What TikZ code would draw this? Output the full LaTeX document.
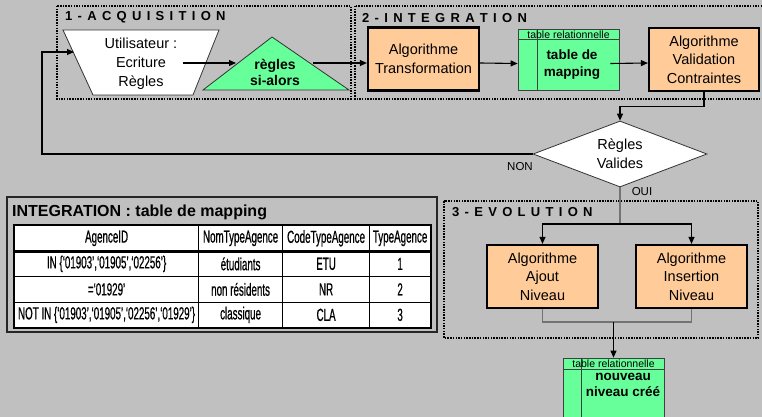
\documentclass[tikz,border=0pt]{standalone}
\usepackage{fontspec}
\setmainfont{Liberation Sans}
\newfontfamily\narrowfont[FakeStretch=0.56,FakeBold=0.6]{Liberation Sans}
\usetikzlibrary{arrows.meta,shapes.geometric,matrix,calc}
\definecolor{bg}{HTML}{C0C0C0}
\definecolor{orangebox}{HTML}{FFCC99}
\definecolor{greenbox}{HTML}{66FF99}
\def\myspaced#1{\ifx#1\relax\else#1\kern5.3pt\expandafter\myspaced\fi}
\begin{document}
\begin{tikzpicture}[x=1pt,y=-1pt,
  every node/.style={inner sep=0pt},
  frame/.style={draw=black, line width=1.6pt, dash pattern=on 1.5pt off 1.2pt},
  ftitle/.style={anchor=west, font=\fontsize{13}{13}\selectfont\bfseries},
  algo/.style={draw=black, line width=2.2pt, fill=orangebox, minimum width=111, minimum height=63, align=center, font=\fontsize{14.5}{18.5}\selectfont},
  reltab/.style={draw=black!75, line width=0.8pt, fill=greenbox},
  relhead/.style={font=\fontsize{10.5}{11}\selectfont},
  relbody/.style={align=center, font=\fontsize{13.5}{16.5}\selectfont\bfseries},
  shapeline/.style={draw=black!80, line width=0.8pt},
  boxtext/.style={align=center, font=\fontsize{14.5}{19}\selectfont},
  arr/.style={-{Triangle[length=7pt,width=6pt]}, line width=1.1pt},
  graycon/.style={line width=1.1pt, draw=black!55},
  lbl/.style={font=\fontsize{11.5}{12}\selectfont},
]
\fill[bg] (0,0) rectangle (762,417);
\useasboundingbox (0,0) rectangle (762,417);

% frames
\draw[frame] (57,6) rectangle (351,99);
\draw[frame] (355,6) rectangle (772,99);
\draw[frame] (444,201) rectangle (758,338);
\node[ftitle] (t1) at (65,17.5) {\myspaced 1-ACQUISITION\relax};
\node[ftitle] (t2) at (362,18) {\myspaced 2-INTEGRATION\relax};
\node[ftitle] (t3) at (452,212.5) {\myspaced 3-EVOLUTION\relax};

% acquisition
\path[shapeline, fill=white] (63,30) -- (219,30) -- (193,95) -- (93,95) -- cycle;
\node[boxtext] (user) at (141,64) {Utilisateur :\\Ecriture\\Règles};
\path[shapeline, fill=greenbox] (203,90) -- (272,37) -- (349,90) -- cycle;
\node[align=center, font=\fontsize{14}{16}\selectfont\bfseries] (regles) at (275,72) {règles\\si-alors};
\coordinate (userout) at (183,63);
\coordinate (triin) at (236,63);
\coordinate (triout) at (313,63);
\coordinate (nonturn) at (42,52);
\coordinate (nonend) at (74,52);

% integration
\node[algo] (trans) at (423.5,59) {Algorithme\\Transformation};
\node[reltab, minimum width=101, minimum height=61] (map) at (568.5,59.5) {};
\draw[reltab] ($(map.north west)+(0,11)$) -- ($(map.north east)+(0,11)$);
\draw[reltab] ($(map.north west)+(20,0)$) -- ($(map.south west)+(20,0)$);
\node[relhead] (maphead) at ($(map.north)+(0,6)$) {table relationnelle};
\node[relbody] (mapbody) at (572,64.5) {table de\\mapping};
\node[algo, minimum width=110] (valid) at (704,59.5) {Algorithme\\Validation\\Contraintes};

% decision
\node[diamond, aspect=2.64, minimum width=174, minimum height=66, shapeline, fill=white, boxtext] (dia) at (620,154) {Règles\\Valides};
\node[lbl] (non) at (520,167) {NON};
\node[lbl] (oui) at (642,192) {OUI};
\coordinate (split) at (620,224);

% evolution
\node[algo] (ajout) at (542.5,276.5) {Algorithme\\Ajout\\Niveau};
\node[algo] (insert) at (691.5,276.5) {Algorithme\\Insertion\\Niveau};
\coordinate (join) at (613.5,322);
\node[reltab, minimum width=101, minimum height=67] (newtab) at (613.5,391.5) {};
\draw[reltab] ($(newtab.north west)+(0,12)$) -- ($(newtab.north east)+(0,12)$);
\draw[reltab] ($(newtab.north west)+(19,0)$) -- ($(newtab.south west)+(19,0)$);
\node[relhead] (newhead) at ($(newtab.north)+(0,6.5)$) {table relationnelle};
\node[relbody, font=\fontsize{13.5}{16}\selectfont\bfseries] (newbody) at (623,385) {nouveau\\niveau créé};

% mapping table
\draw[line width=2pt, draw=black!85] (7,197) rectangle (437,332);
\node[anchor=west, font=\fontsize{16}{16}\selectfont\bfseries] (ttl) at (12,212) {INTEGRATION : table de mapping};
\matrix (mt) [matrix of nodes, anchor=north west, inner sep=0pt, column sep=-0.8pt, row sep=-0.8pt,
  nodes={draw=black, line width=0.8pt, fill=white, minimum height=25.5, inner sep=0pt, anchor=center,
         font=\narrowfont\fontsize{17.5}{17.5}\selectfont},
  column 1/.style={nodes={minimum width=184}},
  column 2/.style={nodes={minimum width=84}},
  column 3/.style={nodes={minimum width=87}},
  column 4/.style={nodes={minimum width=61}}] at (14,225) {
  AgenceID & NomTypeAgence & CodeTypeAgence & TypeAgence \\
  IN \{‘01903’,‘01905’,‘02256’\} & étudiants & ETU & 1 \\
  =‘01929’ & non résidents & NR & 2 \\
  NOT IN \{‘01903’,‘01905’,‘02256’,‘01929’\} & classique & CLA & 3 \\
};
\draw[line width=2pt] (mt.north west) rectangle (mt.south east);
\draw[line width=2.4pt] (mt-1-1.south west) -- (mt-1-4.south east);

% connectors
\draw[arr] (userout) -- (triin);
\draw[arr] (triout) -- ([yshift=-4pt]trans.west);
\draw[arr] ([yshift=-4pt]trans.east) -- ([yshift=-4pt]map.west);
\draw[arr] ([xshift=-9pt,yshift=-4pt]map.east) -- ([yshift=-3.5pt]valid.west);
\draw[arr] (valid.south) -- ++(0,14) -| (dia.north);
\draw[arr] (dia.west) -| (nonturn) -- (nonend);
\draw[graycon] (dia.south) -- (split);
\draw[arr] (split) -| (ajout.north);
\draw[arr] (split) -| (insert.north);
\draw[graycon] (ajout.south) |- (join) -| (insert.south);
\draw[arr] (join) -- (newtab.north);
\end{tikzpicture}
\end{document}
